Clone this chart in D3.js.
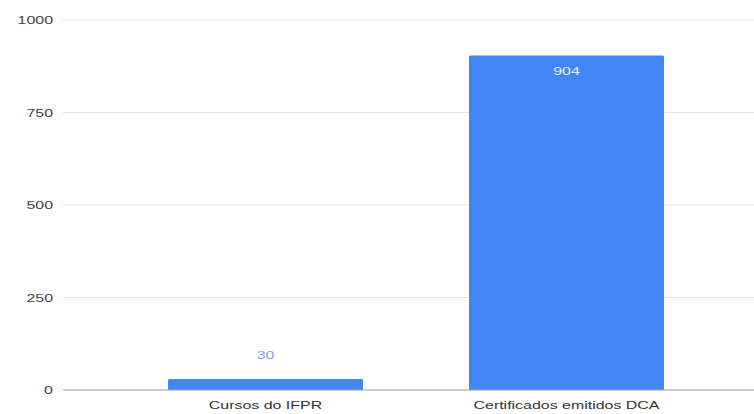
<!DOCTYPE html>
<html><head><meta charset="utf-8">
<script src="https://cdn.jsdelivr.net/npm/d3@7"></script>
<style>body{margin:0;background:#fff}svg{display:block}</style>
</head><body>
<svg id="c" width="754" height="414"></svg>
<script>
const categories = ["Cursos do IFPR", "Certificados emitidos DCA"];
const values = [30, 904];
const yTicks = [0, 250, 500, 750, 1000];

(function () {
const svg = d3.select("#c");
const plotLeft = 63, plotRight = 754, plotTop = 20, plotBottom = 390;
const sx = 1.45; // horizontal stretch of text seen in the reference

const y = d3.scaleLinear().domain([0, 1000]).range([plotBottom, plotTop]);
const x = d3.scaleBand().domain(categories).range([115, 717]).paddingInner(0.352).paddingOuter(0.176);

const font = "Liberation Sans, Arial, sans-serif";

// gridlines
svg.append("g").selectAll("line").data(yTicks.filter(d => d !== 0)).join("line")
  .attr("x1", plotLeft).attr("x2", plotRight)
  .attr("y1", d => y(d)).attr("y2", d => y(d))
  .attr("stroke", "#e3e3e3").attr("stroke-width", 1.2);

// y labels
svg.append("g").selectAll("text").data(yTicks).join("text")
  .attr("transform", d => `translate(53,${y(d) + 4}) scale(${sx},1)`)
  .attr("text-anchor", "end").attr("font-family", font).attr("font-size", 11)
  .attr("fill", "#444").text(d => d);

// bars
svg.append("g").selectAll("rect").data(values).join("rect")
  .attr("x", (d, i) => x(categories[i])).attr("width", x.bandwidth())
  .attr("y", d => y(d)).attr("height", d => plotBottom - y(d))
  .attr("rx", 1.5)
  .attr("fill", "#4285f4");

// baseline
svg.append("line").attr("x1", plotLeft).attr("x2", plotRight)
  .attr("y1", y(0)).attr("y2", y(0)).attr("stroke", "#999").attr("stroke-width", 1.2);

// value labels
svg.append("g").selectAll("text").data(values).join("text")
  .attr("transform", (d, i) => `translate(${x(categories[i]) + x.bandwidth() / 2},${d > 500 ? y(d) + 19 : y(d) - 20}) scale(${sx},1)`)
  .attr("text-anchor", "middle").attr("font-family", font).attr("font-size", 11)
  .attr("fill", d => d > 500 ? "#e8effc" : "#7ea6e4")
  .text(d => d);

// category labels
svg.append("g").selectAll("text").data(categories).join("text")
  .attr("transform", d => `translate(${x(d) + x.bandwidth() / 2},409) scale(${sx},1)`)
  .attr("text-anchor", "middle").attr("font-family", font).attr("font-size", 11)
  .attr("fill", "#333").text(d => d);
})();
</script>
</body></html>
